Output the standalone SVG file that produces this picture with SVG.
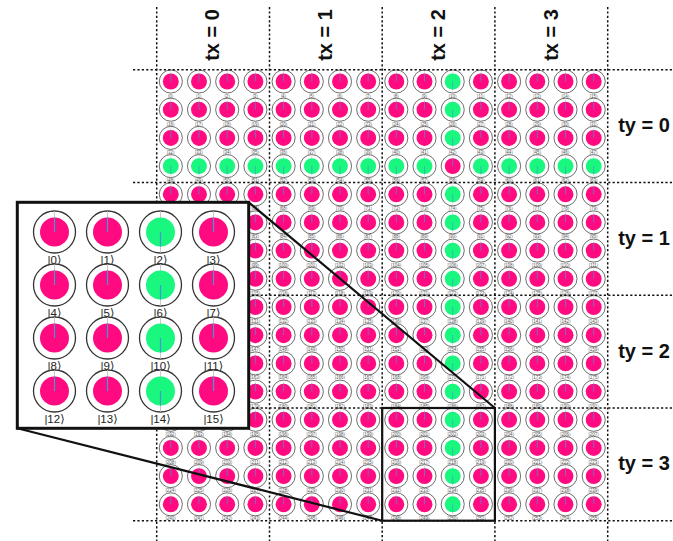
<svg xmlns="http://www.w3.org/2000/svg" xmlns:xlink="http://www.w3.org/1999/xlink" width="673" height="541" viewBox="0 0 673 541">
<style>
.sl{font-family:"Liberation Sans","DejaVu Sans",sans-serif;font-size:4.5px;fill:#555;text-anchor:middle}
.bl{font-family:"Liberation Sans","DejaVu Sans",sans-serif;font-size:11.5px;fill:#222;text-anchor:middle}
.hd{font-family:"Liberation Sans",Arial,sans-serif;font-size:20px;font-weight:bold;fill:#111}
.dash{stroke:#111;stroke-width:1.5;stroke-dasharray:2.2 2.2;fill:none}
.con{stroke:#111;stroke-width:2.2;fill:none}
</style>
<defs>
<g id="P"><circle r="21" fill="#fff" stroke="#333" stroke-width="1.3"/><line x1="0" y1="-21" x2="0" y2="0" stroke="#bbb" stroke-width=".8"/><circle r="14.5" fill="#ff0a80"/><line x1="0" y1="-14.5" x2="0" y2="0" stroke="#3d9bd6" stroke-width="1.2"/></g>
<g id="G"><circle r="21" fill="#fff" stroke="#333" stroke-width="1.3"/><line x1="0" y1="-21" x2="0" y2="21" stroke="#bbb" stroke-width=".8"/><circle r="14.5" fill="#19f77f"/><line x1="0" y1="0" x2="0" y2="14.5" stroke="#3d9bd6" stroke-width="1.2"/></g>
<g id="ps" transform="scale(.55)"><use href="#P"/></g>
<g id="gs" transform="scale(.55)"><use href="#G"/></g>
</defs>
<rect width="673" height="541" fill="#fff"/>
<g id="grid">
<g id="q0" transform="translate(170.8,81.5)"><use href="#ps"/><text class="sl" y="16">|0⟩</text></g>
<g id="q1" transform="translate(199,81.5)"><use href="#ps"/><text class="sl" y="16">|1⟩</text></g>
<g id="q2" transform="translate(227.2,81.5)"><use href="#ps"/><text class="sl" y="16">|2⟩</text></g>
<g id="q3" transform="translate(255.4,81.5)"><use href="#ps"/><text class="sl" y="16">|3⟩</text></g>
<g id="q4" transform="translate(283.6,81.5)"><use href="#ps"/><text class="sl" y="16">|4⟩</text></g>
<g id="q5" transform="translate(311.8,81.5)"><use href="#ps"/><text class="sl" y="16">|5⟩</text></g>
<g id="q6" transform="translate(340,81.5)"><use href="#ps"/><text class="sl" y="16">|6⟩</text></g>
<g id="q7" transform="translate(368.2,81.5)"><use href="#ps"/><text class="sl" y="16">|7⟩</text></g>
<g id="q8" transform="translate(396.3,81.5)"><use href="#ps"/><text class="sl" y="16">|8⟩</text></g>
<g id="q9" transform="translate(424.5,81.5)"><use href="#ps"/><text class="sl" y="16">|9⟩</text></g>
<g id="q10" transform="translate(452.7,81.5)"><use href="#gs"/><text class="sl" y="16">|10⟩</text></g>
<g id="q11" transform="translate(480.9,81.5)"><use href="#ps"/><text class="sl" y="16">|11⟩</text></g>
<g id="q12" transform="translate(509.1,81.5)"><use href="#ps"/><text class="sl" y="16">|12⟩</text></g>
<g id="q13" transform="translate(537.3,81.5)"><use href="#ps"/><text class="sl" y="16">|13⟩</text></g>
<g id="q14" transform="translate(565.5,81.5)"><use href="#ps"/><text class="sl" y="16">|14⟩</text></g>
<g id="q15" transform="translate(593.7,81.5)"><use href="#ps"/><text class="sl" y="16">|15⟩</text></g>
<g id="q16" transform="translate(170.8,109.7)"><use href="#ps"/><text class="sl" y="16">|16⟩</text></g>
<g id="q17" transform="translate(199,109.7)"><use href="#ps"/><text class="sl" y="16">|17⟩</text></g>
<g id="q18" transform="translate(227.2,109.7)"><use href="#ps"/><text class="sl" y="16">|18⟩</text></g>
<g id="q19" transform="translate(255.4,109.7)"><use href="#ps"/><text class="sl" y="16">|19⟩</text></g>
<g id="q20" transform="translate(283.6,109.7)"><use href="#ps"/><text class="sl" y="16">|20⟩</text></g>
<g id="q21" transform="translate(311.8,109.7)"><use href="#ps"/><text class="sl" y="16">|21⟩</text></g>
<g id="q22" transform="translate(340,109.7)"><use href="#ps"/><text class="sl" y="16">|22⟩</text></g>
<g id="q23" transform="translate(368.2,109.7)"><use href="#ps"/><text class="sl" y="16">|23⟩</text></g>
<g id="q24" transform="translate(396.3,109.7)"><use href="#ps"/><text class="sl" y="16">|24⟩</text></g>
<g id="q25" transform="translate(424.5,109.7)"><use href="#ps"/><text class="sl" y="16">|25⟩</text></g>
<g id="q26" transform="translate(452.7,109.7)"><use href="#gs"/><text class="sl" y="16">|26⟩</text></g>
<g id="q27" transform="translate(480.9,109.7)"><use href="#ps"/><text class="sl" y="16">|27⟩</text></g>
<g id="q28" transform="translate(509.1,109.7)"><use href="#ps"/><text class="sl" y="16">|28⟩</text></g>
<g id="q29" transform="translate(537.3,109.7)"><use href="#ps"/><text class="sl" y="16">|29⟩</text></g>
<g id="q30" transform="translate(565.5,109.7)"><use href="#ps"/><text class="sl" y="16">|30⟩</text></g>
<g id="q31" transform="translate(593.7,109.7)"><use href="#ps"/><text class="sl" y="16">|31⟩</text></g>
<g id="q32" transform="translate(170.8,137.9)"><use href="#ps"/><text class="sl" y="16">|32⟩</text></g>
<g id="q33" transform="translate(199,137.9)"><use href="#ps"/><text class="sl" y="16">|33⟩</text></g>
<g id="q34" transform="translate(227.2,137.9)"><use href="#ps"/><text class="sl" y="16">|34⟩</text></g>
<g id="q35" transform="translate(255.4,137.9)"><use href="#ps"/><text class="sl" y="16">|35⟩</text></g>
<g id="q36" transform="translate(283.6,137.9)"><use href="#ps"/><text class="sl" y="16">|36⟩</text></g>
<g id="q37" transform="translate(311.8,137.9)"><use href="#ps"/><text class="sl" y="16">|37⟩</text></g>
<g id="q38" transform="translate(340,137.9)"><use href="#ps"/><text class="sl" y="16">|38⟩</text></g>
<g id="q39" transform="translate(368.2,137.9)"><use href="#ps"/><text class="sl" y="16">|39⟩</text></g>
<g id="q40" transform="translate(396.3,137.9)"><use href="#ps"/><text class="sl" y="16">|40⟩</text></g>
<g id="q41" transform="translate(424.5,137.9)"><use href="#ps"/><text class="sl" y="16">|41⟩</text></g>
<g id="q42" transform="translate(452.7,137.9)"><use href="#gs"/><text class="sl" y="16">|42⟩</text></g>
<g id="q43" transform="translate(480.9,137.9)"><use href="#ps"/><text class="sl" y="16">|43⟩</text></g>
<g id="q44" transform="translate(509.1,137.9)"><use href="#ps"/><text class="sl" y="16">|44⟩</text></g>
<g id="q45" transform="translate(537.3,137.9)"><use href="#ps"/><text class="sl" y="16">|45⟩</text></g>
<g id="q46" transform="translate(565.5,137.9)"><use href="#ps"/><text class="sl" y="16">|46⟩</text></g>
<g id="q47" transform="translate(593.7,137.9)"><use href="#ps"/><text class="sl" y="16">|47⟩</text></g>
<g id="q48" transform="translate(170.8,166.1)"><use href="#gs"/><text class="sl" y="16">|48⟩</text></g>
<g id="q49" transform="translate(199,166.1)"><use href="#gs"/><text class="sl" y="16">|49⟩</text></g>
<g id="q50" transform="translate(227.2,166.1)"><use href="#gs"/><text class="sl" y="16">|50⟩</text></g>
<g id="q51" transform="translate(255.4,166.1)"><use href="#gs"/><text class="sl" y="16">|51⟩</text></g>
<g id="q52" transform="translate(283.6,166.1)"><use href="#gs"/><text class="sl" y="16">|52⟩</text></g>
<g id="q53" transform="translate(311.8,166.1)"><use href="#gs"/><text class="sl" y="16">|53⟩</text></g>
<g id="q54" transform="translate(340,166.1)"><use href="#gs"/><text class="sl" y="16">|54⟩</text></g>
<g id="q55" transform="translate(368.2,166.1)"><use href="#gs"/><text class="sl" y="16">|55⟩</text></g>
<g id="q56" transform="translate(396.3,166.1)"><use href="#gs"/><text class="sl" y="16">|56⟩</text></g>
<g id="q57" transform="translate(424.5,166.1)"><use href="#gs"/><text class="sl" y="16">|57⟩</text></g>
<g id="q58" transform="translate(452.7,166.1)"><use href="#ps"/><text class="sl" y="16">|58⟩</text></g>
<g id="q59" transform="translate(480.9,166.1)"><use href="#gs"/><text class="sl" y="16">|59⟩</text></g>
<g id="q60" transform="translate(509.1,166.1)"><use href="#gs"/><text class="sl" y="16">|60⟩</text></g>
<g id="q61" transform="translate(537.3,166.1)"><use href="#gs"/><text class="sl" y="16">|61⟩</text></g>
<g id="q62" transform="translate(565.5,166.1)"><use href="#gs"/><text class="sl" y="16">|62⟩</text></g>
<g id="q63" transform="translate(593.7,166.1)"><use href="#gs"/><text class="sl" y="16">|63⟩</text></g>
<g id="q64" transform="translate(170.8,194.3)"><use href="#ps"/><text class="sl" y="16">|64⟩</text></g>
<g id="q65" transform="translate(199,194.3)"><use href="#ps"/><text class="sl" y="16">|65⟩</text></g>
<g id="q66" transform="translate(227.2,194.3)"><use href="#ps"/><text class="sl" y="16">|66⟩</text></g>
<g id="q67" transform="translate(255.4,194.3)"><use href="#ps"/><text class="sl" y="16">|67⟩</text></g>
<g id="q68" transform="translate(283.6,194.3)"><use href="#ps"/><text class="sl" y="16">|68⟩</text></g>
<g id="q69" transform="translate(311.8,194.3)"><use href="#ps"/><text class="sl" y="16">|69⟩</text></g>
<g id="q70" transform="translate(340,194.3)"><use href="#ps"/><text class="sl" y="16">|70⟩</text></g>
<g id="q71" transform="translate(368.2,194.3)"><use href="#ps"/><text class="sl" y="16">|71⟩</text></g>
<g id="q72" transform="translate(396.3,194.3)"><use href="#ps"/><text class="sl" y="16">|72⟩</text></g>
<g id="q73" transform="translate(424.5,194.3)"><use href="#ps"/><text class="sl" y="16">|73⟩</text></g>
<g id="q74" transform="translate(452.7,194.3)"><use href="#gs"/><text class="sl" y="16">|74⟩</text></g>
<g id="q75" transform="translate(480.9,194.3)"><use href="#ps"/><text class="sl" y="16">|75⟩</text></g>
<g id="q76" transform="translate(509.1,194.3)"><use href="#ps"/><text class="sl" y="16">|76⟩</text></g>
<g id="q77" transform="translate(537.3,194.3)"><use href="#ps"/><text class="sl" y="16">|77⟩</text></g>
<g id="q78" transform="translate(565.5,194.3)"><use href="#ps"/><text class="sl" y="16">|78⟩</text></g>
<g id="q79" transform="translate(593.7,194.3)"><use href="#ps"/><text class="sl" y="16">|79⟩</text></g>
<g id="q80" transform="translate(170.8,222.4)"><use href="#ps"/><text class="sl" y="16">|80⟩</text></g>
<g id="q81" transform="translate(199,222.4)"><use href="#ps"/><text class="sl" y="16">|81⟩</text></g>
<g id="q82" transform="translate(227.2,222.4)"><use href="#ps"/><text class="sl" y="16">|82⟩</text></g>
<g id="q83" transform="translate(255.4,222.4)"><use href="#ps"/><text class="sl" y="16">|83⟩</text></g>
<g id="q84" transform="translate(283.6,222.4)"><use href="#ps"/><text class="sl" y="16">|84⟩</text></g>
<g id="q85" transform="translate(311.8,222.4)"><use href="#ps"/><text class="sl" y="16">|85⟩</text></g>
<g id="q86" transform="translate(340,222.4)"><use href="#ps"/><text class="sl" y="16">|86⟩</text></g>
<g id="q87" transform="translate(368.2,222.4)"><use href="#ps"/><text class="sl" y="16">|87⟩</text></g>
<g id="q88" transform="translate(396.3,222.4)"><use href="#ps"/><text class="sl" y="16">|88⟩</text></g>
<g id="q89" transform="translate(424.5,222.4)"><use href="#ps"/><text class="sl" y="16">|89⟩</text></g>
<g id="q90" transform="translate(452.7,222.4)"><use href="#gs"/><text class="sl" y="16">|90⟩</text></g>
<g id="q91" transform="translate(480.9,222.4)"><use href="#ps"/><text class="sl" y="16">|91⟩</text></g>
<g id="q92" transform="translate(509.1,222.4)"><use href="#ps"/><text class="sl" y="16">|92⟩</text></g>
<g id="q93" transform="translate(537.3,222.4)"><use href="#ps"/><text class="sl" y="16">|93⟩</text></g>
<g id="q94" transform="translate(565.5,222.4)"><use href="#ps"/><text class="sl" y="16">|94⟩</text></g>
<g id="q95" transform="translate(593.7,222.4)"><use href="#ps"/><text class="sl" y="16">|95⟩</text></g>
<g id="q96" transform="translate(170.8,250.6)"><use href="#ps"/><text class="sl" y="16">|96⟩</text></g>
<g id="q97" transform="translate(199,250.6)"><use href="#ps"/><text class="sl" y="16">|97⟩</text></g>
<g id="q98" transform="translate(227.2,250.6)"><use href="#ps"/><text class="sl" y="16">|98⟩</text></g>
<g id="q99" transform="translate(255.4,250.6)"><use href="#ps"/><text class="sl" y="16">|99⟩</text></g>
<g id="q100" transform="translate(283.6,250.6)"><use href="#ps"/><text class="sl" y="16">|100⟩</text></g>
<g id="q101" transform="translate(311.8,250.6)"><use href="#ps"/><text class="sl" y="16">|101⟩</text></g>
<g id="q102" transform="translate(340,250.6)"><use href="#ps"/><text class="sl" y="16">|102⟩</text></g>
<g id="q103" transform="translate(368.2,250.6)"><use href="#ps"/><text class="sl" y="16">|103⟩</text></g>
<g id="q104" transform="translate(396.3,250.6)"><use href="#ps"/><text class="sl" y="16">|104⟩</text></g>
<g id="q105" transform="translate(424.5,250.6)"><use href="#ps"/><text class="sl" y="16">|105⟩</text></g>
<g id="q106" transform="translate(452.7,250.6)"><use href="#gs"/><text class="sl" y="16">|106⟩</text></g>
<g id="q107" transform="translate(480.9,250.6)"><use href="#ps"/><text class="sl" y="16">|107⟩</text></g>
<g id="q108" transform="translate(509.1,250.6)"><use href="#ps"/><text class="sl" y="16">|108⟩</text></g>
<g id="q109" transform="translate(537.3,250.6)"><use href="#ps"/><text class="sl" y="16">|109⟩</text></g>
<g id="q110" transform="translate(565.5,250.6)"><use href="#ps"/><text class="sl" y="16">|110⟩</text></g>
<g id="q111" transform="translate(593.7,250.6)"><use href="#ps"/><text class="sl" y="16">|111⟩</text></g>
<g id="q112" transform="translate(170.8,278.8)"><use href="#ps"/><text class="sl" y="16">|112⟩</text></g>
<g id="q113" transform="translate(199,278.8)"><use href="#ps"/><text class="sl" y="16">|113⟩</text></g>
<g id="q114" transform="translate(227.2,278.8)"><use href="#ps"/><text class="sl" y="16">|114⟩</text></g>
<g id="q115" transform="translate(255.4,278.8)"><use href="#ps"/><text class="sl" y="16">|115⟩</text></g>
<g id="q116" transform="translate(283.6,278.8)"><use href="#ps"/><text class="sl" y="16">|116⟩</text></g>
<g id="q117" transform="translate(311.8,278.8)"><use href="#ps"/><text class="sl" y="16">|117⟩</text></g>
<g id="q118" transform="translate(340,278.8)"><use href="#ps"/><text class="sl" y="16">|118⟩</text></g>
<g id="q119" transform="translate(368.2,278.8)"><use href="#ps"/><text class="sl" y="16">|119⟩</text></g>
<g id="q120" transform="translate(396.3,278.8)"><use href="#ps"/><text class="sl" y="16">|120⟩</text></g>
<g id="q121" transform="translate(424.5,278.8)"><use href="#ps"/><text class="sl" y="16">|121⟩</text></g>
<g id="q122" transform="translate(452.7,278.8)"><use href="#gs"/><text class="sl" y="16">|122⟩</text></g>
<g id="q123" transform="translate(480.9,278.8)"><use href="#ps"/><text class="sl" y="16">|123⟩</text></g>
<g id="q124" transform="translate(509.1,278.8)"><use href="#ps"/><text class="sl" y="16">|124⟩</text></g>
<g id="q125" transform="translate(537.3,278.8)"><use href="#ps"/><text class="sl" y="16">|125⟩</text></g>
<g id="q126" transform="translate(565.5,278.8)"><use href="#ps"/><text class="sl" y="16">|126⟩</text></g>
<g id="q127" transform="translate(593.7,278.8)"><use href="#ps"/><text class="sl" y="16">|127⟩</text></g>
<g id="q128" transform="translate(170.8,307)"><use href="#ps"/><text class="sl" y="16">|128⟩</text></g>
<g id="q129" transform="translate(199,307)"><use href="#ps"/><text class="sl" y="16">|129⟩</text></g>
<g id="q130" transform="translate(227.2,307)"><use href="#ps"/><text class="sl" y="16">|130⟩</text></g>
<g id="q131" transform="translate(255.4,307)"><use href="#ps"/><text class="sl" y="16">|131⟩</text></g>
<g id="q132" transform="translate(283.6,307)"><use href="#ps"/><text class="sl" y="16">|132⟩</text></g>
<g id="q133" transform="translate(311.8,307)"><use href="#ps"/><text class="sl" y="16">|133⟩</text></g>
<g id="q134" transform="translate(340,307)"><use href="#ps"/><text class="sl" y="16">|134⟩</text></g>
<g id="q135" transform="translate(368.2,307)"><use href="#ps"/><text class="sl" y="16">|135⟩</text></g>
<g id="q136" transform="translate(396.3,307)"><use href="#ps"/><text class="sl" y="16">|136⟩</text></g>
<g id="q137" transform="translate(424.5,307)"><use href="#ps"/><text class="sl" y="16">|137⟩</text></g>
<g id="q138" transform="translate(452.7,307)"><use href="#gs"/><text class="sl" y="16">|138⟩</text></g>
<g id="q139" transform="translate(480.9,307)"><use href="#ps"/><text class="sl" y="16">|139⟩</text></g>
<g id="q140" transform="translate(509.1,307)"><use href="#ps"/><text class="sl" y="16">|140⟩</text></g>
<g id="q141" transform="translate(537.3,307)"><use href="#ps"/><text class="sl" y="16">|141⟩</text></g>
<g id="q142" transform="translate(565.5,307)"><use href="#ps"/><text class="sl" y="16">|142⟩</text></g>
<g id="q143" transform="translate(593.7,307)"><use href="#ps"/><text class="sl" y="16">|143⟩</text></g>
<g id="q144" transform="translate(170.8,335.2)"><use href="#ps"/><text class="sl" y="16">|144⟩</text></g>
<g id="q145" transform="translate(199,335.2)"><use href="#ps"/><text class="sl" y="16">|145⟩</text></g>
<g id="q146" transform="translate(227.2,335.2)"><use href="#ps"/><text class="sl" y="16">|146⟩</text></g>
<g id="q147" transform="translate(255.4,335.2)"><use href="#ps"/><text class="sl" y="16">|147⟩</text></g>
<g id="q148" transform="translate(283.6,335.2)"><use href="#ps"/><text class="sl" y="16">|148⟩</text></g>
<g id="q149" transform="translate(311.8,335.2)"><use href="#ps"/><text class="sl" y="16">|149⟩</text></g>
<g id="q150" transform="translate(340,335.2)"><use href="#ps"/><text class="sl" y="16">|150⟩</text></g>
<g id="q151" transform="translate(368.2,335.2)"><use href="#ps"/><text class="sl" y="16">|151⟩</text></g>
<g id="q152" transform="translate(396.3,335.2)"><use href="#ps"/><text class="sl" y="16">|152⟩</text></g>
<g id="q153" transform="translate(424.5,335.2)"><use href="#ps"/><text class="sl" y="16">|153⟩</text></g>
<g id="q154" transform="translate(452.7,335.2)"><use href="#gs"/><text class="sl" y="16">|154⟩</text></g>
<g id="q155" transform="translate(480.9,335.2)"><use href="#ps"/><text class="sl" y="16">|155⟩</text></g>
<g id="q156" transform="translate(509.1,335.2)"><use href="#ps"/><text class="sl" y="16">|156⟩</text></g>
<g id="q157" transform="translate(537.3,335.2)"><use href="#ps"/><text class="sl" y="16">|157⟩</text></g>
<g id="q158" transform="translate(565.5,335.2)"><use href="#ps"/><text class="sl" y="16">|158⟩</text></g>
<g id="q159" transform="translate(593.7,335.2)"><use href="#ps"/><text class="sl" y="16">|159⟩</text></g>
<g id="q160" transform="translate(170.8,363.4)"><use href="#ps"/><text class="sl" y="16">|160⟩</text></g>
<g id="q161" transform="translate(199,363.4)"><use href="#ps"/><text class="sl" y="16">|161⟩</text></g>
<g id="q162" transform="translate(227.2,363.4)"><use href="#ps"/><text class="sl" y="16">|162⟩</text></g>
<g id="q163" transform="translate(255.4,363.4)"><use href="#ps"/><text class="sl" y="16">|163⟩</text></g>
<g id="q164" transform="translate(283.6,363.4)"><use href="#ps"/><text class="sl" y="16">|164⟩</text></g>
<g id="q165" transform="translate(311.8,363.4)"><use href="#ps"/><text class="sl" y="16">|165⟩</text></g>
<g id="q166" transform="translate(340,363.4)"><use href="#ps"/><text class="sl" y="16">|166⟩</text></g>
<g id="q167" transform="translate(368.2,363.4)"><use href="#ps"/><text class="sl" y="16">|167⟩</text></g>
<g id="q168" transform="translate(396.3,363.4)"><use href="#ps"/><text class="sl" y="16">|168⟩</text></g>
<g id="q169" transform="translate(424.5,363.4)"><use href="#ps"/><text class="sl" y="16">|169⟩</text></g>
<g id="q170" transform="translate(452.7,363.4)"><use href="#gs"/><text class="sl" y="16">|170⟩</text></g>
<g id="q171" transform="translate(480.9,363.4)"><use href="#ps"/><text class="sl" y="16">|171⟩</text></g>
<g id="q172" transform="translate(509.1,363.4)"><use href="#ps"/><text class="sl" y="16">|172⟩</text></g>
<g id="q173" transform="translate(537.3,363.4)"><use href="#ps"/><text class="sl" y="16">|173⟩</text></g>
<g id="q174" transform="translate(565.5,363.4)"><use href="#ps"/><text class="sl" y="16">|174⟩</text></g>
<g id="q175" transform="translate(593.7,363.4)"><use href="#ps"/><text class="sl" y="16">|175⟩</text></g>
<g id="q176" transform="translate(170.8,391.6)"><use href="#ps"/><text class="sl" y="16">|176⟩</text></g>
<g id="q177" transform="translate(199,391.6)"><use href="#ps"/><text class="sl" y="16">|177⟩</text></g>
<g id="q178" transform="translate(227.2,391.6)"><use href="#ps"/><text class="sl" y="16">|178⟩</text></g>
<g id="q179" transform="translate(255.4,391.6)"><use href="#ps"/><text class="sl" y="16">|179⟩</text></g>
<g id="q180" transform="translate(283.6,391.6)"><use href="#ps"/><text class="sl" y="16">|180⟩</text></g>
<g id="q181" transform="translate(311.8,391.6)"><use href="#ps"/><text class="sl" y="16">|181⟩</text></g>
<g id="q182" transform="translate(340,391.6)"><use href="#ps"/><text class="sl" y="16">|182⟩</text></g>
<g id="q183" transform="translate(368.2,391.6)"><use href="#ps"/><text class="sl" y="16">|183⟩</text></g>
<g id="q184" transform="translate(396.3,391.6)"><use href="#ps"/><text class="sl" y="16">|184⟩</text></g>
<g id="q185" transform="translate(424.5,391.6)"><use href="#ps"/><text class="sl" y="16">|185⟩</text></g>
<g id="q186" transform="translate(452.7,391.6)"><use href="#gs"/><text class="sl" y="16">|186⟩</text></g>
<g id="q187" transform="translate(480.9,391.6)"><use href="#ps"/><text class="sl" y="16">|187⟩</text></g>
<g id="q188" transform="translate(509.1,391.6)"><use href="#ps"/><text class="sl" y="16">|188⟩</text></g>
<g id="q189" transform="translate(537.3,391.6)"><use href="#ps"/><text class="sl" y="16">|189⟩</text></g>
<g id="q190" transform="translate(565.5,391.6)"><use href="#ps"/><text class="sl" y="16">|190⟩</text></g>
<g id="q191" transform="translate(593.7,391.6)"><use href="#ps"/><text class="sl" y="16">|191⟩</text></g>
<g id="q192" transform="translate(170.8,419.8)"><use href="#ps"/><text class="sl" y="16">|192⟩</text></g>
<g id="q193" transform="translate(199,419.8)"><use href="#ps"/><text class="sl" y="16">|193⟩</text></g>
<g id="q194" transform="translate(227.2,419.8)"><use href="#ps"/><text class="sl" y="16">|194⟩</text></g>
<g id="q195" transform="translate(255.4,419.8)"><use href="#ps"/><text class="sl" y="16">|195⟩</text></g>
<g id="q196" transform="translate(283.6,419.8)"><use href="#ps"/><text class="sl" y="16">|196⟩</text></g>
<g id="q197" transform="translate(311.8,419.8)"><use href="#ps"/><text class="sl" y="16">|197⟩</text></g>
<g id="q198" transform="translate(340,419.8)"><use href="#ps"/><text class="sl" y="16">|198⟩</text></g>
<g id="q199" transform="translate(368.2,419.8)"><use href="#ps"/><text class="sl" y="16">|199⟩</text></g>
<g id="q200" transform="translate(396.3,419.8)"><use href="#ps"/><text class="sl" y="16">|200⟩</text></g>
<g id="q201" transform="translate(424.5,419.8)"><use href="#ps"/><text class="sl" y="16">|201⟩</text></g>
<g id="q202" transform="translate(452.7,419.8)"><use href="#gs"/><text class="sl" y="16">|202⟩</text></g>
<g id="q203" transform="translate(480.9,419.8)"><use href="#ps"/><text class="sl" y="16">|203⟩</text></g>
<g id="q204" transform="translate(509.1,419.8)"><use href="#ps"/><text class="sl" y="16">|204⟩</text></g>
<g id="q205" transform="translate(537.3,419.8)"><use href="#ps"/><text class="sl" y="16">|205⟩</text></g>
<g id="q206" transform="translate(565.5,419.8)"><use href="#ps"/><text class="sl" y="16">|206⟩</text></g>
<g id="q207" transform="translate(593.7,419.8)"><use href="#ps"/><text class="sl" y="16">|207⟩</text></g>
<g id="q208" transform="translate(170.8,447.9)"><use href="#ps"/><text class="sl" y="16">|208⟩</text></g>
<g id="q209" transform="translate(199,447.9)"><use href="#ps"/><text class="sl" y="16">|209⟩</text></g>
<g id="q210" transform="translate(227.2,447.9)"><use href="#ps"/><text class="sl" y="16">|210⟩</text></g>
<g id="q211" transform="translate(255.4,447.9)"><use href="#ps"/><text class="sl" y="16">|211⟩</text></g>
<g id="q212" transform="translate(283.6,447.9)"><use href="#ps"/><text class="sl" y="16">|212⟩</text></g>
<g id="q213" transform="translate(311.8,447.9)"><use href="#ps"/><text class="sl" y="16">|213⟩</text></g>
<g id="q214" transform="translate(340,447.9)"><use href="#ps"/><text class="sl" y="16">|214⟩</text></g>
<g id="q215" transform="translate(368.2,447.9)"><use href="#ps"/><text class="sl" y="16">|215⟩</text></g>
<g id="q216" transform="translate(396.3,447.9)"><use href="#ps"/><text class="sl" y="16">|216⟩</text></g>
<g id="q217" transform="translate(424.5,447.9)"><use href="#ps"/><text class="sl" y="16">|217⟩</text></g>
<g id="q218" transform="translate(452.7,447.9)"><use href="#gs"/><text class="sl" y="16">|218⟩</text></g>
<g id="q219" transform="translate(480.9,447.9)"><use href="#ps"/><text class="sl" y="16">|219⟩</text></g>
<g id="q220" transform="translate(509.1,447.9)"><use href="#ps"/><text class="sl" y="16">|220⟩</text></g>
<g id="q221" transform="translate(537.3,447.9)"><use href="#ps"/><text class="sl" y="16">|221⟩</text></g>
<g id="q222" transform="translate(565.5,447.9)"><use href="#ps"/><text class="sl" y="16">|222⟩</text></g>
<g id="q223" transform="translate(593.7,447.9)"><use href="#ps"/><text class="sl" y="16">|223⟩</text></g>
<g id="q224" transform="translate(170.8,476.1)"><use href="#ps"/><text class="sl" y="16">|224⟩</text></g>
<g id="q225" transform="translate(199,476.1)"><use href="#ps"/><text class="sl" y="16">|225⟩</text></g>
<g id="q226" transform="translate(227.2,476.1)"><use href="#ps"/><text class="sl" y="16">|226⟩</text></g>
<g id="q227" transform="translate(255.4,476.1)"><use href="#ps"/><text class="sl" y="16">|227⟩</text></g>
<g id="q228" transform="translate(283.6,476.1)"><use href="#ps"/><text class="sl" y="16">|228⟩</text></g>
<g id="q229" transform="translate(311.8,476.1)"><use href="#ps"/><text class="sl" y="16">|229⟩</text></g>
<g id="q230" transform="translate(340,476.1)"><use href="#ps"/><text class="sl" y="16">|230⟩</text></g>
<g id="q231" transform="translate(368.2,476.1)"><use href="#ps"/><text class="sl" y="16">|231⟩</text></g>
<g id="q232" transform="translate(396.3,476.1)"><use href="#ps"/><text class="sl" y="16">|232⟩</text></g>
<g id="q233" transform="translate(424.5,476.1)"><use href="#ps"/><text class="sl" y="16">|233⟩</text></g>
<g id="q234" transform="translate(452.7,476.1)"><use href="#gs"/><text class="sl" y="16">|234⟩</text></g>
<g id="q235" transform="translate(480.9,476.1)"><use href="#ps"/><text class="sl" y="16">|235⟩</text></g>
<g id="q236" transform="translate(509.1,476.1)"><use href="#ps"/><text class="sl" y="16">|236⟩</text></g>
<g id="q237" transform="translate(537.3,476.1)"><use href="#ps"/><text class="sl" y="16">|237⟩</text></g>
<g id="q238" transform="translate(565.5,476.1)"><use href="#ps"/><text class="sl" y="16">|238⟩</text></g>
<g id="q239" transform="translate(593.7,476.1)"><use href="#ps"/><text class="sl" y="16">|239⟩</text></g>
<g id="q240" transform="translate(170.8,504.3)"><use href="#ps"/><text class="sl" y="16">|240⟩</text></g>
<g id="q241" transform="translate(199,504.3)"><use href="#ps"/><text class="sl" y="16">|241⟩</text></g>
<g id="q242" transform="translate(227.2,504.3)"><use href="#ps"/><text class="sl" y="16">|242⟩</text></g>
<g id="q243" transform="translate(255.4,504.3)"><use href="#ps"/><text class="sl" y="16">|243⟩</text></g>
<g id="q244" transform="translate(283.6,504.3)"><use href="#ps"/><text class="sl" y="16">|244⟩</text></g>
<g id="q245" transform="translate(311.8,504.3)"><use href="#ps"/><text class="sl" y="16">|245⟩</text></g>
<g id="q246" transform="translate(340,504.3)"><use href="#ps"/><text class="sl" y="16">|246⟩</text></g>
<g id="q247" transform="translate(368.2,504.3)"><use href="#ps"/><text class="sl" y="16">|247⟩</text></g>
<g id="q248" transform="translate(396.3,504.3)"><use href="#ps"/><text class="sl" y="16">|248⟩</text></g>
<g id="q249" transform="translate(424.5,504.3)"><use href="#ps"/><text class="sl" y="16">|249⟩</text></g>
<g id="q250" transform="translate(452.7,504.3)"><use href="#gs"/><text class="sl" y="16">|250⟩</text></g>
<g id="q251" transform="translate(480.9,504.3)"><use href="#ps"/><text class="sl" y="16">|251⟩</text></g>
<g id="q252" transform="translate(509.1,504.3)"><use href="#ps"/><text class="sl" y="16">|252⟩</text></g>
<g id="q253" transform="translate(537.3,504.3)"><use href="#ps"/><text class="sl" y="16">|253⟩</text></g>
<g id="q254" transform="translate(565.5,504.3)"><use href="#ps"/><text class="sl" y="16">|254⟩</text></g>
<g id="q255" transform="translate(593.7,504.3)"><use href="#ps"/><text class="sl" y="16">|255⟩</text></g>
</g>
<g id="tiles">
<line class="dash" x1="156.7" y1="7" x2="156.7" y2="541"/>
<line class="dash" x1="269.5" y1="7" x2="269.5" y2="541"/>
<line class="dash" x1="382.2" y1="7" x2="382.2" y2="541"/>
<line class="dash" x1="494.9" y1="7" x2="494.9" y2="541"/>
<line class="dash" x1="607.7" y1="7" x2="607.7" y2="541"/>
<line class="dash" x1="133" y1="69.8" x2="673" y2="69.8"/>
<line class="dash" x1="133" y1="182.5" x2="673" y2="182.5"/>
<line class="dash" x1="133" y1="295.2" x2="673" y2="295.2"/>
<line class="dash" x1="133" y1="408" x2="673" y2="408"/>
<line class="dash" x1="133" y1="520.7" x2="673" y2="520.7"/>
</g>
<g id="labels">
<text class="hd" text-anchor="middle" transform="translate(212,35) rotate(-90)" y="7">tx = 0</text>
<text class="hd" text-anchor="middle" transform="translate(325,35) rotate(-90)" y="7">tx = 1</text>
<text class="hd" text-anchor="middle" transform="translate(438,35) rotate(-90)" y="7">tx = 2</text>
<text class="hd" text-anchor="middle" transform="translate(550.5,35) rotate(-90)" y="7">tx = 3</text>
<text class="hd" text-anchor="middle" x="644" y="132">ty = 0</text>
<text class="hd" text-anchor="middle" x="644" y="245">ty = 1</text>
<text class="hd" text-anchor="middle" x="644" y="357.5">ty = 2</text>
<text class="hd" text-anchor="middle" x="644" y="470">ty = 3</text>
</g>
<g id="connectors">
<rect class="con" x="382.2" y="408" width="112.7" height="112.7"/>
<line class="con" x1="248.7" y1="202.3" x2="494.9" y2="408"/>
<line class="con" x1="17.3" y1="428.3" x2="382.2" y2="520.7"/>
</g>
<g id="inset">
<rect x="17.3" y="202.3" width="231.4" height="226" fill="#fff" stroke="#111" stroke-width="3"/>
<g id="k0" transform="translate(54.5,232)"><use href="#P"/><text class="bl" y="32">|0⟩</text></g>
<g id="k1" transform="translate(107.5,232)"><use href="#P"/><text class="bl" y="32">|1⟩</text></g>
<g id="k2" transform="translate(160.5,232)"><use href="#G"/><text class="bl" y="32">|2⟩</text></g>
<g id="k3" transform="translate(213.5,232)"><use href="#P"/><text class="bl" y="32">|3⟩</text></g>
<g id="k4" transform="translate(54.5,285)"><use href="#P"/><text class="bl" y="32">|4⟩</text></g>
<g id="k5" transform="translate(107.5,285)"><use href="#P"/><text class="bl" y="32">|5⟩</text></g>
<g id="k6" transform="translate(160.5,285)"><use href="#G"/><text class="bl" y="32">|6⟩</text></g>
<g id="k7" transform="translate(213.5,285)"><use href="#P"/><text class="bl" y="32">|7⟩</text></g>
<g id="k8" transform="translate(54.5,338)"><use href="#P"/><text class="bl" y="32">|8⟩</text></g>
<g id="k9" transform="translate(107.5,338)"><use href="#P"/><text class="bl" y="32">|9⟩</text></g>
<g id="k10" transform="translate(160.5,338)"><use href="#G"/><text class="bl" y="32">|10⟩</text></g>
<g id="k11" transform="translate(213.5,338)"><use href="#P"/><text class="bl" y="32">|11⟩</text></g>
<g id="k12" transform="translate(54.5,391)"><use href="#P"/><text class="bl" y="32">|12⟩</text></g>
<g id="k13" transform="translate(107.5,391)"><use href="#P"/><text class="bl" y="32">|13⟩</text></g>
<g id="k14" transform="translate(160.5,391)"><use href="#G"/><text class="bl" y="32">|14⟩</text></g>
<g id="k15" transform="translate(213.5,391)"><use href="#P"/><text class="bl" y="32">|15⟩</text></g>
</g>
</svg>
